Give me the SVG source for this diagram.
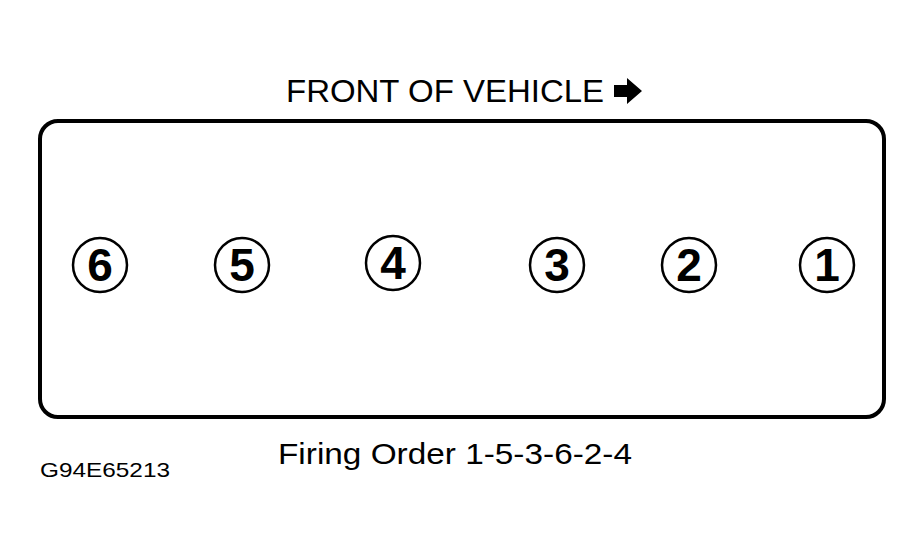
<svg xmlns="http://www.w3.org/2000/svg" width="924" height="553" viewBox="0 0 924 553">
<style>
.t{font-family:"Liberation Sans",Arial,sans-serif;fill:#000}
.c{fill:none;stroke:#000;stroke-width:2.5}
.n{font-family:"Liberation Sans",Arial,sans-serif;font-weight:bold;font-size:46px;text-anchor:middle;fill:#000}
</style>
<rect width="924" height="553" fill="#fff"/>
<g id="title">
<text class="t" x="286" y="102" font-size="31" textLength="318" lengthAdjust="spacingAndGlyphs">FRONT OF VEHICLE</text>
<path d="M614,85 H627 V78 L642,91 L627,104 V97 H614 Z" fill="#000"/>
</g>
<g id="block">
<rect x="40" y="121" width="844" height="296" rx="18" ry="18" fill="none" stroke="#000" stroke-width="4"/>
</g>
<g id="cyl6"><circle class="c" cx="100" cy="265" r="27"/><text class="n" x="100" y="281">6</text></g>
<g id="cyl5"><circle class="c" cx="242" cy="265" r="27"/><text class="n" x="242" y="281">5</text></g>
<g id="cyl4"><circle class="c" cx="393" cy="263" r="27"/><text class="n" x="393" y="279">4</text></g>
<g id="cyl3"><circle class="c" cx="557" cy="265" r="27"/><text class="n" x="557" y="281">3</text></g>
<g id="cyl2"><circle class="c" cx="689" cy="265" r="27"/><text class="n" x="689" y="281">2</text></g>
<g id="cyl1"><circle class="c" cx="827" cy="265" r="27"/><text class="n" x="827" y="281">1</text></g>
<g id="labels">
<text class="t" x="278" y="464" font-size="30" textLength="354" lengthAdjust="spacingAndGlyphs">Firing Order 1-5-3-6-2-4</text>
<text class="t" x="40" y="477" font-size="21" textLength="130" lengthAdjust="spacingAndGlyphs">G94E65213</text>
</g>
</svg>
